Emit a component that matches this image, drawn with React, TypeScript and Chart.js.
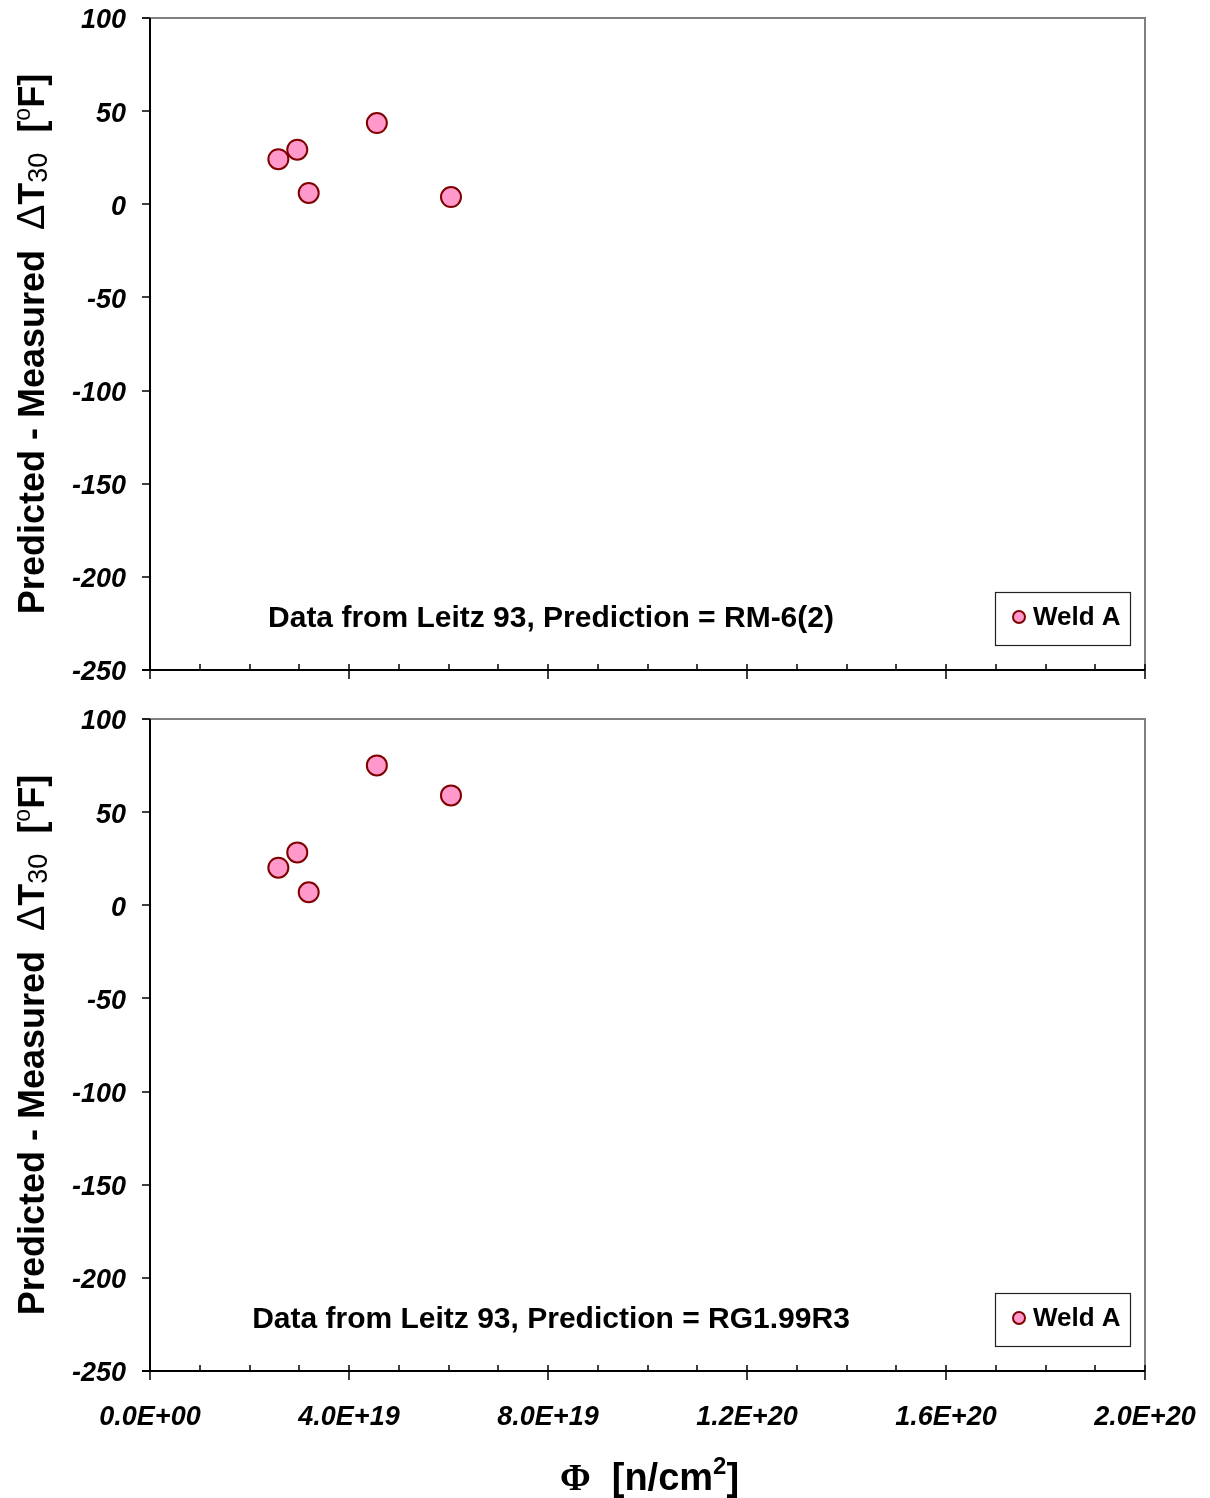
import React, { useEffect, useRef } from 'react';
import { Chart, registerables } from 'chart.js';

Chart.register(...registerables);

// Neutron fluence of each surveillance capsule [n/cm^2]
const fluence = [2.58e19, 2.96e19, 3.19e19, 4.56e19, 6.05e19];
// Predicted minus measured shift of the 30 ft-lb temperature [°F]
const residualRM62 = [24.2, 29.3, 6.1, 43.6, 3.9];
const residualRG199R3 = [20.2, 28.4, 7.0, 75.1, 59.0];

const seriesName = 'Weld A';
const noteRM62 = 'Data from Leitz 93, Prediction = RM-6(2)';
const noteRG199R3 = 'Data from Leitz 93, Prediction = RG1.99R3';

const yTickValues = [-250, -200, -150, -100, -50, 0, 50, 100];
const xTickValues = [0, 4e19, 8e19, 1.2e20, 1.6e20, 2e20];
const xTickLabels = ['0.0E+00', '4.0E+19', '8.0E+19', '1.2E+20', '1.6E+20', '2.0E+20'];
const xMinorStep = 1e19;

const SANS = '"Liberation Sans", Arial, sans-serif';
const SERIF = '"Liberation Serif", "Times New Roman", serif';
const FILL = '#FF99CC';
const EDGE = '#800000';

type Seg = { text: string; font: string; dy?: number };

function drawRich(ctx: CanvasRenderingContext2D, segs: Seg[], cx: number, baseline: number) {
  const widths = segs.map((s) => {
    ctx.font = s.font;
    return ctx.measureText(s.text).width;
  });
  const total = widths.reduce((a, b) => a + b, 0);
  let x = cx - total / 2;
  ctx.textAlign = 'left';
  ctx.textBaseline = 'alphabetic';
  segs.forEach((s, i) => {
    ctx.font = s.font;
    ctx.fillText(s.text, x, baseline + (s.dy || 0));
    x += widths[i];
  });
}

const yTitle: Seg[] = [
  { text: 'Predicted - Measured  ', font: `bold 36px ${SANS}` },
  { text: 'Δ', font: `38px ${SANS}` },
  { text: 'T', font: `bold 36px ${SANS}` },
  { text: '30', font: `27px ${SANS}`, dy: 3 },
  { text: '  [', font: `bold 36px ${SANS}` },
  { text: 'o', font: `23px ${SANS}`, dy: -14 },
  { text: 'F]', font: `bold 36px ${SANS}` },
];

const xTitle: Seg[] = [
  { text: 'Φ', font: `bold 37px ${SERIF}` },
  { text: '  [n/cm', font: `bold 38px ${SANS}` },
  { text: '2', font: `bold 24px ${SANS}`, dy: -16 },
  { text: ']', font: `bold 38px ${SANS}` },
];

type PanelProps = {
  values: number[];
  note: string;
  showXLabels: boolean;
  height: number;
  top: number;
  areaTop: number;
  areaBottom: number;
};

function Panel({ values, note, showXLabels, height, top, areaTop, areaBottom }: PanelProps) {
  const ref = useRef<HTMLCanvasElement | null>(null);

  useEffect(() => {
    if (!ref.current) return;

    const framePlugin = {
      id: 'frame',
      beforeDatasetsDraw(chart: any) {
        const { ctx, chartArea: a } = chart;
        const xs = chart.scales.x;
        const ys = chart.scales.y;
        ctx.save();
        ctx.lineCap = 'butt';
        // top and right border
        ctx.strokeStyle = '#808080';
        ctx.lineWidth = 2;
        ctx.beginPath();
        ctx.moveTo(a.left - 8, a.top);
        ctx.lineTo(a.right, a.top);
        ctx.lineTo(a.right, a.bottom);
        ctx.stroke();
        // y axis line and ticks
        ctx.strokeStyle = '#000';
        ctx.lineWidth = 2;
        ctx.beginPath();
        ctx.moveTo(a.left, a.top);
        ctx.lineTo(a.left, a.bottom + 1);
        ctx.stroke();
        ctx.lineWidth = 1.5;
        ctx.beginPath();
        yTickValues.forEach((v) => {
          const py = Math.round(ys.getPixelForValue(v));
          ctx.moveTo(a.left - 8, py);
          ctx.lineTo(a.left, py);
        });
        ctx.stroke();
        // x axis line
        ctx.lineWidth = 2;
        ctx.beginPath();
        ctx.moveTo(a.left - 8, a.bottom);
        ctx.lineTo(a.right, a.bottom);
        ctx.stroke();
        // x ticks: minor inside, major crossing
        ctx.lineWidth = 1.5;
        ctx.beginPath();
        const n = Math.round((xs.max - xs.min) / xMinorStep);
        for (let i = 0; i <= n; i++) {
          const v = xs.min + i * xMinorStep;
          const px = Math.round(xs.getPixelForValue(v));
          const major = i % 4 === 0;
          ctx.moveTo(px, a.bottom - 6);
          ctx.lineTo(px, major ? a.bottom + 9 : a.bottom);
        }
        ctx.stroke();
        ctx.restore();
      },
      afterDatasetsDraw(chart: any) {
        const { ctx, chartArea: a } = chart;
        ctx.save();
        ctx.fillStyle = '#000';
        // note inside the plot
        ctx.font = `bold 30px ${SANS}`;
        ctx.textAlign = 'center';
        ctx.textBaseline = 'alphabetic';
        ctx.fillText(note, a.left + 401, a.bottom - 43);
        // legend box
        const bx = a.right - 150;
        const by = a.bottom - 78;
        const bw = 135;
        const bh = 53;
        ctx.fillStyle = '#fff';
        ctx.fillRect(bx, by, bw, bh);
        ctx.strokeStyle = '#222';
        ctx.lineWidth = 1.2;
        ctx.strokeRect(bx + 0.5, by + 0.5, bw, bh);
        ctx.beginPath();
        ctx.arc(bx + 24, by + 25, 6, 0, Math.PI * 2);
        ctx.fillStyle = FILL;
        ctx.fill();
        ctx.strokeStyle = EDGE;
        ctx.lineWidth = 2;
        ctx.stroke();
        ctx.fillStyle = '#000';
        ctx.font = `bold 26px ${SANS}`;
        ctx.textAlign = 'left';
        ctx.fillText(seriesName, bx + 38, by + 33);
        // y axis title
        ctx.save();
        ctx.translate(44, (a.top + a.bottom) / 2);
        ctx.rotate(-Math.PI / 2);
        drawRich(ctx, yTitle, 0, 0);
        ctx.restore();
        // x axis title
        if (showXLabels) {
          drawRich(ctx, xTitle, (a.left + a.right) / 2 + 2, a.bottom + 119);
        }
        ctx.restore();
      },
    };

    const chart = new Chart(ref.current, {
      type: 'scatter',
      data: {
        datasets: [
          {
            label: seriesName,
            data: fluence.map((x, i) => ({ x, y: values[i] })),
            pointRadius: 10,
            pointHoverRadius: 10,
            pointBackgroundColor: FILL,
            pointBorderColor: EDGE,
            pointBorderWidth: 2,
            showLine: false,
          },
        ],
      },
      options: {
        responsive: false,
        animation: false,
        devicePixelRatio: 1,
        events: [],
        layout: { padding: { left: 0, right: 65, top: areaTop, bottom: 0 } },
        plugins: {
          legend: { display: false },
          tooltip: { enabled: false },
          title: { display: false },
        },
        scales: {
          x: {
            type: 'linear',
            min: 0,
            max: 2e20,
            // tick marks are drawn by the frame plugin; tickLength only spaces the labels
            grid: { display: false, drawTicks: true, tickLength: 30 },
            border: { display: false },
            afterBuildTicks: (s: any) => {
              s.ticks = xTickValues.map((v) => ({ value: v }));
            },
            afterFit: (s: any) => {
              s.height = height - areaBottom;
            },
            ticks: {
              display: showXLabels,
              maxRotation: 0,
              autoSkip: false,
              padding: 0,
              color: '#000',
              font: { family: SANS, size: 27, weight: 'bold', style: 'italic' },
              callback: (_v: any, i: number) => xTickLabels[i],
            },
          },
          y: {
            type: 'linear',
            min: -250,
            max: 100,
            grid: { display: false, drawTicks: true, tickLength: 24 },
            border: { display: false },
            afterBuildTicks: (s: any) => {
              s.ticks = yTickValues.map((v) => ({ value: v }));
            },
            afterFit: (s: any) => {
              s.width = 150;
            },
            ticks: {
              padding: 0,
              labelOffset: 3,
              color: '#000',
              font: { family: SANS, size: 27, weight: 'bold', style: 'italic' },
              callback: (v: any) => String(v),
            },
          },
        },
      } as any,
      plugins: [framePlugin],
    });

    return () => chart.destroy();
  }, [values, note, showXLabels, height, areaTop, areaBottom]);

  return (
    <canvas
      ref={ref}
      width={1210}
      height={height}
      style={{ position: 'absolute', left: 0, top, width: 1210, height, display: 'block' }}
    />
  );
}

export default function App() {
  return (
    <div
      style={{
        position: 'absolute',
        left: 0,
        top: 0,
        width: 1210,
        height: 1498,
        background: '#fff',
        overflow: 'hidden',
      }}
    >
      <Panel
        values={residualRM62}
        note={noteRM62}
        showXLabels={false}
        height={700}
        top={0}
        areaTop={18}
        areaBottom={670}
      />
      <Panel
        values={residualRG199R3}
        note={noteRG199R3}
        showXLabels={true}
        height={798}
        top={700}
        areaTop={19}
        areaBottom={671}
      />
    </div>
  );
}
